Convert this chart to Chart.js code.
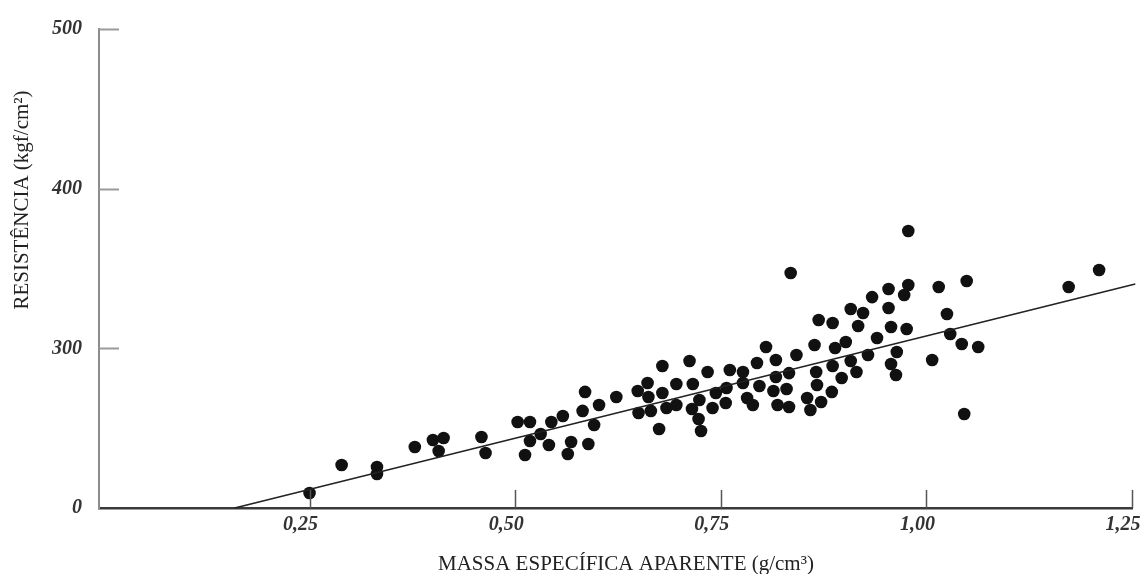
<!DOCTYPE html>
<html>
<head>
<meta charset="utf-8">
<title>Resistência x Massa específica aparente</title>
<script src="https://cdn.jsdelivr.net/npm/chart.js@4/dist/chart.umd.min.js"></script>
<style>
  html, body { margin: 0; padding: 0; background: #fff; }
  #wrap { width: 1142px; height: 574px; }
</style>
</head>
<body>
<div id="wrap"><canvas id="grafico"></canvas></div>
<script>
// valores (g/cm3, kgf/cm2)
const massa = [
  0.250, 0.289, 0.332, 0.332, 0.378, 0.400, 0.413, 0.407, 0.459, 0.464,
  0.503, 0.518, 0.518, 0.512, 0.531, 0.541, 0.544, 0.558, 0.564, 0.568,
  0.585, 0.582, 0.602, 0.596, 0.589, 0.623, 0.649, 0.650, 0.661, 0.662,
  0.665, 0.679, 0.679, 0.684, 0.696, 0.696, 0.675, 0.712, 0.716, 0.715,
  0.724, 0.723, 0.726, 0.734, 0.740, 0.744, 0.756, 0.757, 0.761, 0.777,
  0.777, 0.782, 0.789, 0.794, 0.797, 0.805, 0.817, 0.817, 0.814, 0.819,
  0.830, 0.833, 0.833, 0.835, 0.842, 0.855, 0.859, 0.864, 0.866, 0.867,
  0.869, 0.872, 0.886, 0.886, 0.885, 0.889, 0.897, 0.902, 0.908, 0.908,
  0.915, 0.917, 0.923, 0.929, 0.934, 0.940, 0.954, 0.954, 0.957, 0.957,
  0.964, 0.963, 0.978, 0.978, 0.973, 0.976, 1.015, 1.049, 1.025, 1.029,
  1.043, 1.063, 1.007, 1.046, 1.173, 1.210
];
const resistencia = [
  209.4, 226.9, 225.7, 221.3, 238.2, 242.6, 243.8, 235.7, 244.5, 234.4,
  253.9, 253.9, 242.0, 233.2, 246.3, 239.5, 253.9, 257.6, 233.8, 241.3,
  272.7, 260.8, 264.5, 252.0, 240.1, 269.5, 273.3, 259.5, 278.3, 269.5,
  260.8, 288.9, 272.0, 262.6, 277.7, 264.5, 249.5, 292.1, 277.7, 262.0,
  267.6, 255.7, 248.2, 285.2, 262.6, 272.0, 265.8, 275.2, 286.4, 285.2,
  278.3, 268.9, 264.5, 290.8, 276.4, 300.8, 292.7, 282.0, 273.3, 264.5,
  274.5, 263.3, 284.5, 347.2, 295.8, 268.9, 261.4, 302.1, 285.2, 277.0,
  317.7, 266.4, 315.9, 288.9, 272.7, 300.2, 281.4, 304.0, 324.6, 292.1,
  285.2, 314.0, 322.1, 295.8, 332.1, 306.5, 337.2, 325.3, 313.4, 290.2,
  297.7, 283.3, 373.5, 339.7, 333.4, 312.1, 338.4, 342.2, 321.5, 309.0,
  302.7, 300.8, 292.7, 258.9, 338.4, 349.1
];
// reta de regressão (extremos)
const retaX = [0.159, 1.254];
const retaY = [200, 340.3];

const xTicks = [0.25, 0.50, 0.75, 1.00, 1.25];
const xTickLabels = ['0,25', '0,50', '0,75', '1,00', '1,25'];
const yTicks = [200, 300, 400, 500];
const yTickLabels = ['0', '300', '400', '500'];

const SERIF = "'Liberation Serif', 'Times New Roman', serif";

// marcas de divisão voltadas para dentro do gráfico
const ticksInternos = {
  id: 'ticksInternos',
  afterDraw(chart) {
    const { ctx, scales: { x, y } } = chart;
    ctx.save();
    ctx.lineWidth = 2;
    ctx.strokeStyle = '#9a9a9a';
    yTicks.slice(1).forEach(v => {
      const py = Math.round(y.getPixelForValue(v)) + 0.5;
      ctx.beginPath(); ctx.moveTo(x.left, py); ctx.lineTo(x.left + 20, py); ctx.stroke();
    });
    ctx.lineWidth = 1.5;
    ctx.strokeStyle = '#555';
    xTicks.forEach(v => {
      const px = Math.round(x.getPixelForValue(v)) + 0.5;
      ctx.beginPath(); ctx.moveTo(px, y.bottom); ctx.lineTo(px, y.bottom - 18); ctx.stroke();
    });
    ctx.restore();
  }
};

// títulos dos eixos (o do eixo y fica deslocado para cima, como no original)
const titulos = {
  id: 'titulos',
  afterDraw(chart) {
    const ctx = chart.ctx;
    ctx.save();
    ctx.font = '21px ' + SERIF;
    ctx.fillStyle = '#222';
    ctx.textAlign = 'center';
    ctx.textBaseline = 'middle';
    ctx.fillText('MASSA ESPECÍFICA APARENTE (g/cm³)', 626, 564);
    ctx.translate(22, 200);
    ctx.rotate(-Math.PI / 2);
    ctx.fillText('RESISTÊNCIA (kgf/cm²)', 0, 0);
    ctx.restore();
  }
};

new Chart(document.getElementById('grafico'), {
  type: 'scatter',
  data: {
    datasets: [
      {
        label: 'Reta',
        data: retaX.map((v, i) => ({ x: v, y: retaY[i] })),
        showLine: true,
        borderColor: '#222',
        borderWidth: 1.6,
        pointRadius: 0,
        clip: false,
        order: 0
      },
      {
        label: 'Amostras',
        data: massa.map((v, i) => ({ x: v, y: resistencia[i] })),
        backgroundColor: '#111',
        borderWidth: 0,
        pointRadius: 6.3,
        pointHoverRadius: 6.3,
        order: 1
      }
    ]
  },
  options: {
    responsive: true,
    maintainAspectRatio: false,
    animation: false,
    layout: { padding: { top: 29, right: 10, left: 0, bottom: 0 } },
    plugins: { legend: { display: false }, tooltip: { enabled: false } },
    scales: {
      x: {
        type: 'linear', min: -0.006, max: 1.25,
        afterBuildTicks: s => { s.ticks = xTicks.map(v => ({ value: v })); },
        afterFit: s => { s.height = 66; s.paddingLeft = 0; s.paddingRight = 0; },
        grid: { display: false, drawTicks: false },
        border: { display: true, color: '#3a3a3a', width: 2.5 },
        ticks: {
          callback: (v, i) => xTickLabels[i],
          font: { family: SERIF, size: 20, style: 'italic', weight: 'bold' },
          color: '#333', padding: 5, labelOffset: -9, maxRotation: 0, autoSkip: false
        }
      },
      y: {
        type: 'linear', min: 200, max: 500,
        afterBuildTicks: s => { s.ticks = yTicks.map(v => ({ value: v })); },
        afterFit: s => { s.width = 99; },
        grid: { display: false, drawTicks: false },
        border: { display: true, color: '#8c8c8c', width: 2 },
        ticks: {
          callback: (v, i) => yTickLabels[i],
          font: { family: SERIF, size: 20, style: 'italic', weight: 'bold' },
          color: '#333', padding: 17
        }
      }
    }
  },
  plugins: [ticksInternos, titulos]
});
</script>
</body>
</html>
